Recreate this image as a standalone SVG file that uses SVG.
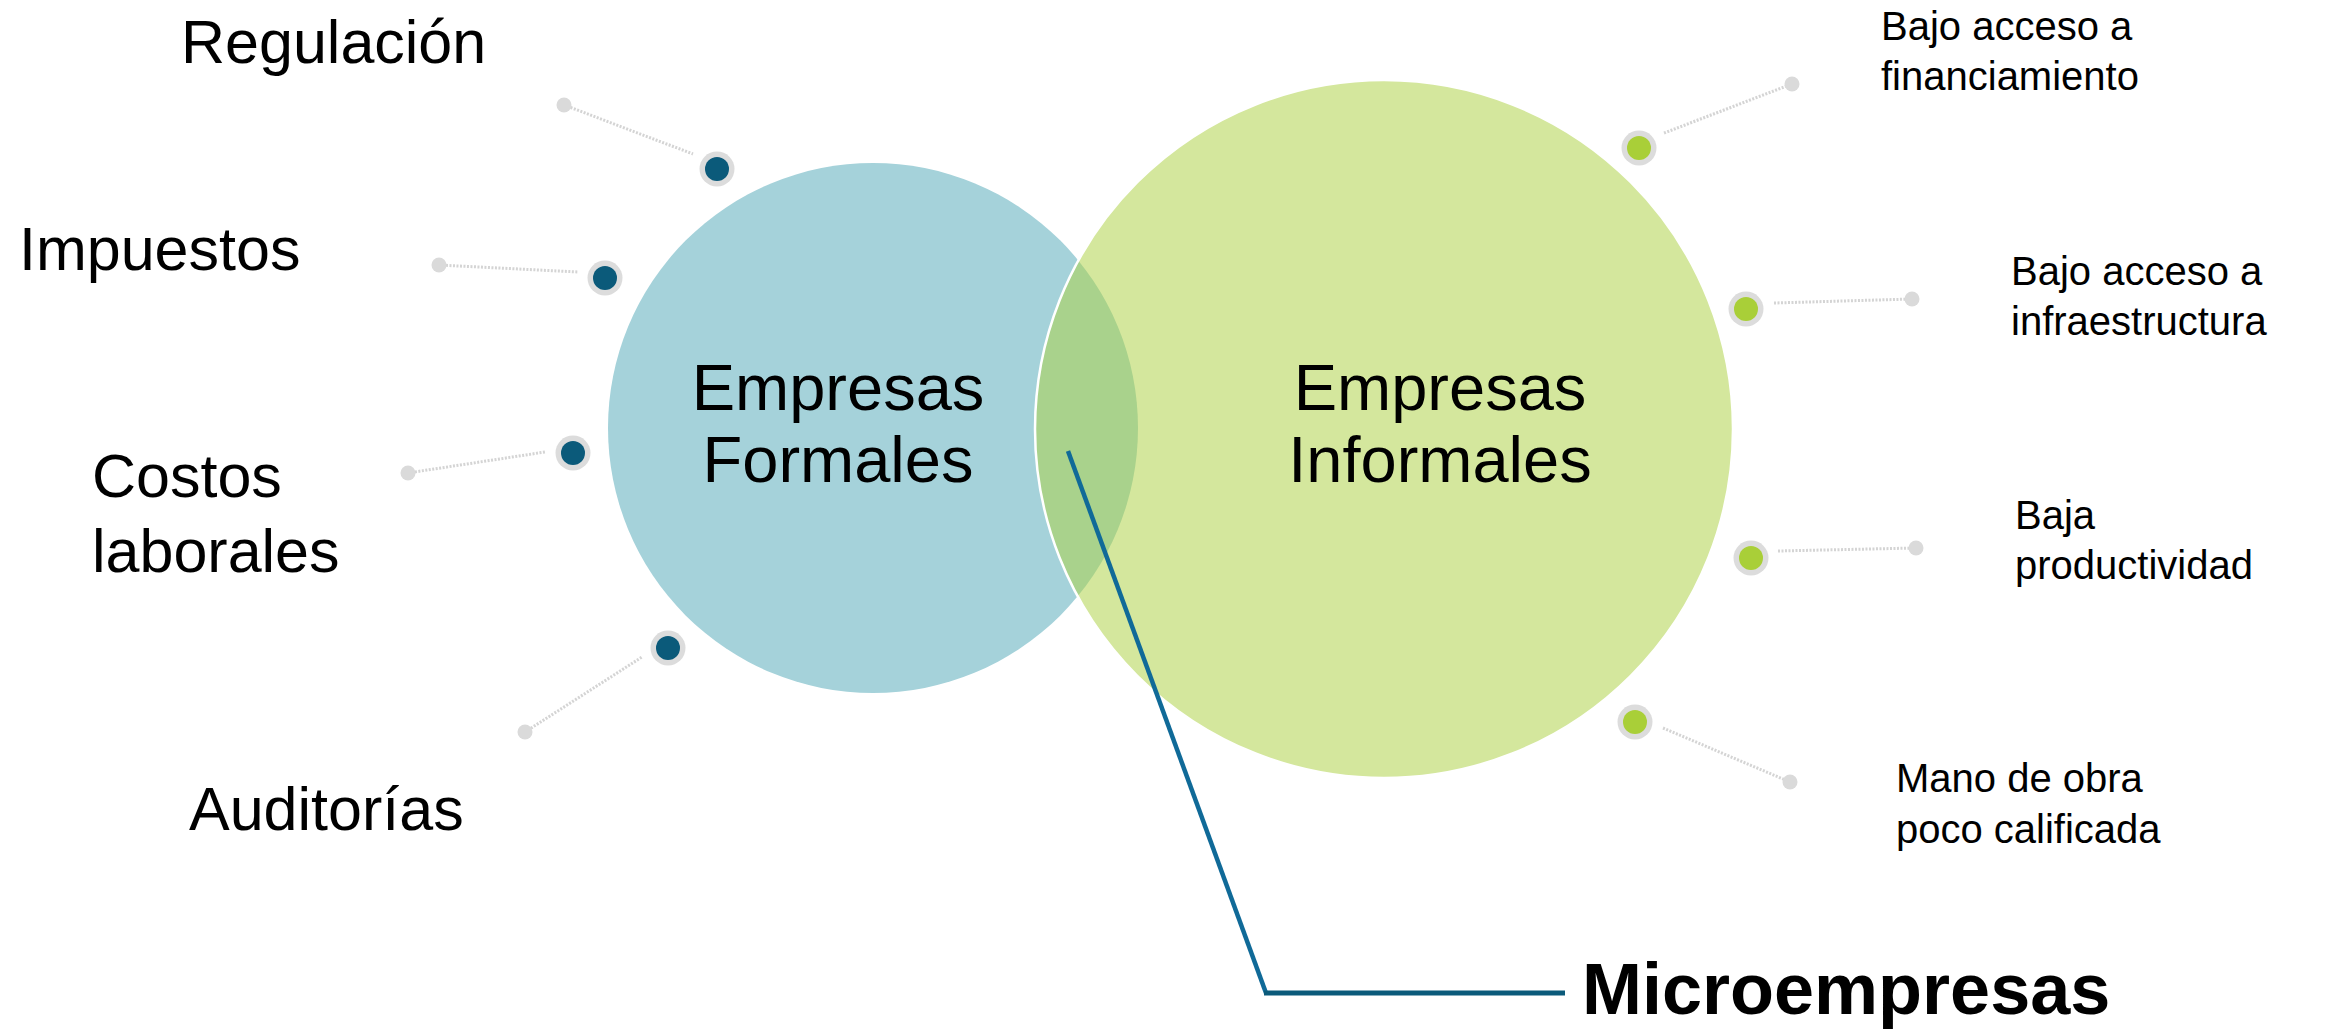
<svg xmlns="http://www.w3.org/2000/svg" width="2328" height="1029" viewBox="0 0 2328 1029">
<style>
text{font-family:"Liberation Sans",Arial,sans-serif;fill:#000}
.big{font-size:65px;text-anchor:middle}
.lab{font-size:61px}
.sm{font-size:40px}
.micro{font-size:72px;font-weight:bold}
.conn{stroke:#d4d4d4;stroke-width:3;stroke-dasharray:2 1.5;fill:none}
.end{fill:#dadada}
.ring{fill:#dcdcdc}
.bdot{fill:#0b5a7a}
.gdot{fill:#a9cf38}
</style>
<rect width="2328" height="1029" fill="#ffffff"/>
<g id="formales">
<circle cx="873" cy="428" r="265" fill="#a5d2da"/>
</g>
<g id="informales">
<circle cx="1384" cy="429" r="349" fill="#aed246" fill-opacity="0.53" stroke="#ffffff" stroke-width="2.5"/>
</g>
<g id="formales-label">
<text class="big" x="838" y="410">Empresas</text>
<text class="big" x="838" y="482">Formales</text>
</g>
<g id="informales-label">
<text class="big" x="1440" y="410">Empresas</text>
<text class="big" x="1440" y="482">Informales</text>
</g>
<g id="connectors">
<line class="conn" x1="564" y1="105" x2="693" y2="154"/>
<line class="conn" x1="439" y1="265" x2="578" y2="272"/>
<line class="conn" x1="408" y1="473" x2="545" y2="452"/>
<line class="conn" x1="525" y1="732" x2="642" y2="657"/>
<line class="conn" x1="1664" y1="133" x2="1792" y2="84"/>
<line class="conn" x1="1774" y1="303" x2="1912" y2="299"/>
<line class="conn" x1="1778" y1="551" x2="1916" y2="548"/>
<line class="conn" x1="1663" y1="728" x2="1790" y2="782"/>
<line x1="1068" y1="451" x2="1266" y2="993" stroke="#106a98" stroke-width="4.5"/>
<line x1="1264" y1="993" x2="1565" y2="993" stroke="#0b5a7a" stroke-width="5"/>
</g>
<g id="regulacion">
<circle class="end" cx="564" cy="105" r="7.5"/>
<circle class="ring" cx="717" cy="169" r="17.5"/>
<circle class="bdot" cx="717" cy="169" r="12"/>
<text class="lab" x="181" y="63">Regulación</text>
</g>
<g id="impuestos">
<circle class="end" cx="439" cy="265" r="7.5"/>
<circle class="ring" cx="605" cy="278" r="17.5"/>
<circle class="bdot" cx="605" cy="278" r="12"/>
<text class="lab" x="19" y="270">Impuestos</text>
</g>
<g id="costos">
<circle class="end" cx="408" cy="473" r="7.5"/>
<circle class="ring" cx="573" cy="453" r="17.5"/>
<circle class="bdot" cx="573" cy="453" r="12"/>
<text class="lab" x="92" y="497">Costos</text>
<text class="lab" x="92" y="572">laborales</text>
</g>
<g id="auditorias">
<circle class="end" cx="525" cy="732" r="7.5"/>
<circle class="ring" cx="668" cy="648" r="17.5"/>
<circle class="bdot" cx="668" cy="648" r="12"/>
<text class="lab" x="189" y="830">Auditorías</text>
</g>
<g id="financiamiento">
<circle class="end" cx="1792" cy="84" r="7.5"/>
<circle class="ring" cx="1639" cy="148" r="17.5"/>
<circle class="gdot" cx="1639" cy="148" r="12"/>
<text class="sm" x="1881" y="40">Bajo acceso a</text>
<text class="sm" x="1881" y="90">financiamiento</text>
</g>
<g id="infraestructura">
<circle class="end" cx="1912" cy="299" r="7.5"/>
<circle class="ring" cx="1746" cy="309" r="17.5"/>
<circle class="gdot" cx="1746" cy="309" r="12"/>
<text class="sm" x="2011" y="285">Bajo acceso a</text>
<text class="sm" x="2011" y="335">infraestructura</text>
</g>
<g id="productividad">
<circle class="end" cx="1916" cy="548" r="7.5"/>
<circle class="ring" cx="1751" cy="558" r="17.5"/>
<circle class="gdot" cx="1751" cy="558" r="12"/>
<text class="sm" x="2015" y="529">Baja</text>
<text class="sm" x="2015" y="579">productividad</text>
</g>
<g id="mano-de-obra">
<circle class="end" cx="1790" cy="782" r="7.5"/>
<circle class="ring" cx="1635" cy="722" r="17.5"/>
<circle class="gdot" cx="1635" cy="722" r="12"/>
<text class="sm" x="1896" y="792">Mano de obra</text>
<text class="sm" x="1896" y="843">poco calificada</text>
</g>
<g id="microempresas">
<text class="micro" x="1582" y="1014">Microempresas</text>
</g>
</svg>
